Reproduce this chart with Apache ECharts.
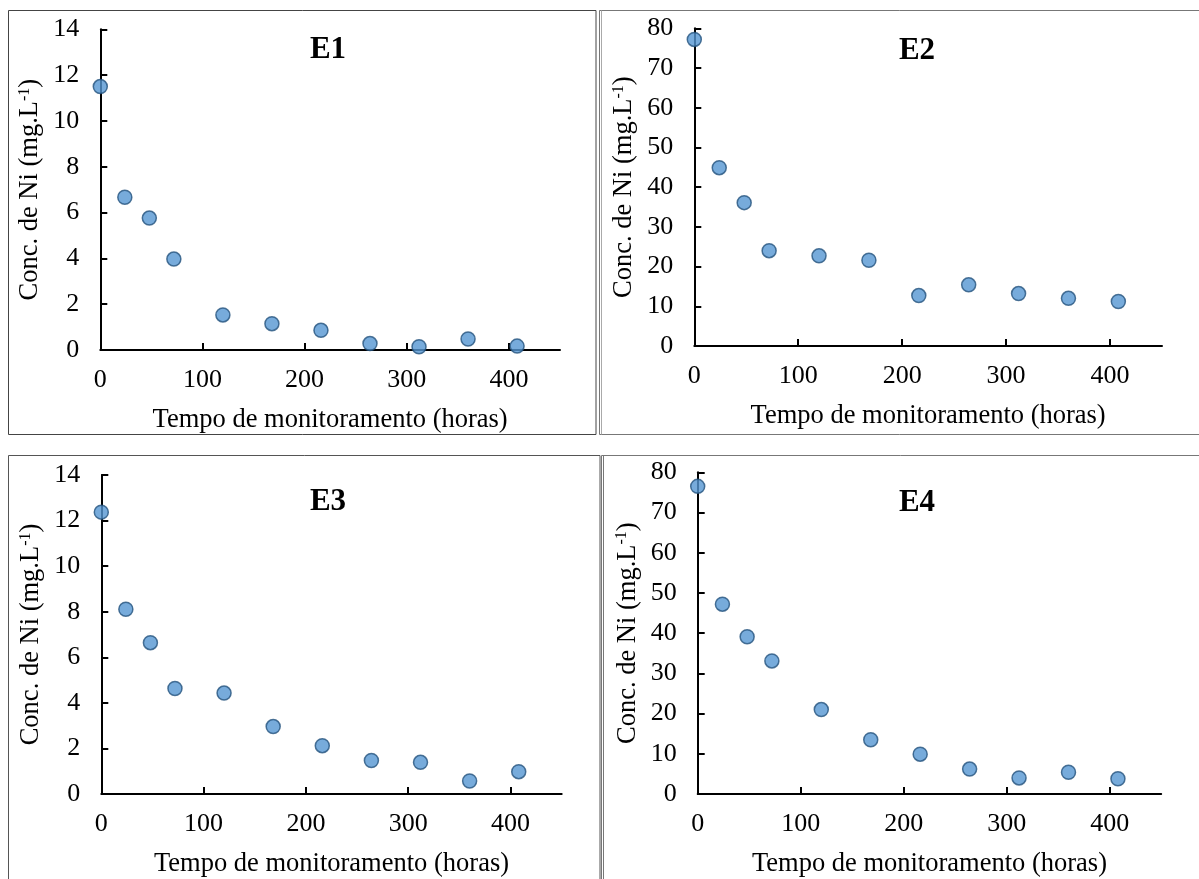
<!DOCTYPE html>
<html>
<head>
<meta charset="utf-8">
<script src="https://cdn.jsdelivr.net/npm/echarts@6/dist/echarts.min.js"></script>
<style>
html,body{margin:0;padding:0;background:#fff;}
#c{width:1199px;height:879px;}
</style>
</head>
<body>
<div id="c"></div>
<script>
// ---- data ----
const hours = [0, 24, 48, 72, 120, 168, 216, 264, 312, 360, 408];
const e1 = [11.5, 6.67, 5.76, 3.97, 1.53, 1.15, 0.86, 0.28, 0.14, 0.48, 0.17];
const e2 = [77.2, 44.9, 36.1, 24.0, 22.7, 21.6, 12.7, 15.4, 13.2, 12.0, 11.2];
const e3 = [12.37, 8.11, 6.64, 4.63, 4.43, 2.96, 2.12, 1.47, 1.39, 0.57, 0.98];
const e4 = [76.5, 47.2, 39.1, 33.1, 21.0, 13.5, 9.9, 6.2, 4.0, 5.4, 3.8];
const panelTitles = ['E1', 'E2', 'E3', 'E4'];
const xTicks = [0, 100, 200, 300, 400];
const xName = 'Tempo de monitoramento (horas)';
const yNameMain = 'Conc. de Ni (mg.L';
const yNameSup = '-1';

const seriesData = [e1, e2, e3, e4];
const yMax = [14, 80, 14, 80];
const yInt = [2, 10, 2, 10];

// ---- layout ----
const grids = [
  {left: 100.3, top: 29.3, width: 459.7, height: 320.7},
  {left: 694.3, top: 28.3, width: 467.7, height: 317.7},
  {left: 101.3, top: 475, width: 460.4, height: 329.7},
  {left: 697.7, top: 472.3, width: 463.5, height: 330}
];
const titlePos = [[328, 50], [917, 51], [328, 502], [917, 503]];

const FONT = "'Liberation Serif','Times New Roman',serif";
const black = '#000';

const chart = echarts.init(document.getElementById('c'), null, {renderer: 'canvas'});

const xAxes = [], yAxes = [], series = [];
grids.forEach((g, i) => {
  xAxes.push({
    type: 'value', gridIndex: i, min: 0, max: 450, interval: 50,
    name: xName, nameLocation: 'middle', nameGap: 57,
    nameTextStyle: {fontFamily: FONT, fontSize: 26.5, color: black},
    axisLine: {show: true, onZero: false, lineStyle: {color: black, width: 2}},
    axisTick: {show: true, inside: true, length: 7, lineStyle: {color: black, width: 2}, customValues: xTicks},
    axisLabel: {fontFamily: FONT, fontSize: 26, color: black, margin: 17, customValues: xTicks},
    splitLine: {show: false}
  });
  yAxes.push({
    type: 'value', gridIndex: i, min: 0, max: yMax[i], interval: yInt[i],
    name: '{m|' + yNameMain + '}{s|' + yNameSup + '}{m|)}',
    nameLocation: 'middle', nameGap: 56, nameRotate: 90,
    nameTextStyle: {
      fontFamily: FONT, fontSize: 26.5, color: black,
      rich: {
        m: {fontFamily: FONT, fontSize: 26.5, color: black},
        s: {fontFamily: FONT, fontSize: 16, color: black, verticalAlign: 'top', padding: [0, 0, 12, 0]}
      }
    },
    axisLine: {show: true, onZero: false, lineStyle: {color: black, width: 2}},
    axisTick: {show: true, inside: true, length: 7, lineStyle: {color: black, width: 2}},
    axisLabel: {fontFamily: FONT, fontSize: 26, color: black, margin: 21},
    splitLine: {show: false}
  });
  series.push({
    type: 'scatter', xAxisIndex: i, yAxisIndex: i,
    data: hours.map((h, k) => [h, seriesData[i][k]]),
    symbol: 'circle', symbolSize: 14,
    itemStyle: {color: '#5596d2', borderColor: '#24527d', borderWidth: 1.5},
    emphasis: {disabled: true}
  });
});

const graphics = [
  // panel borders
  {type: 'rect', shape: {x: 8.5, y: 10.5, width: 587.5, height: 424}, style: {fill: 'none', stroke: '#444', lineWidth: 1}, z: -1},
  {type: 'rect', shape: {x: 599.5, y: 10.5, width: 620, height: 424}, style: {fill: 'none', stroke: '#777', lineWidth: 1}, z: -1},
  {type: 'line', shape: {x1: 601.5, y1: 10.5, x2: 601.5, y2: 434.5}, style: {stroke: '#aaa', lineWidth: 1}, z: -1},
  {type: 'rect', shape: {x: 8.5, y: 455.5, width: 591.5, height: 440}, style: {fill: 'none', stroke: '#555', lineWidth: 1}, z: -1},
  {type: 'rect', shape: {x: 601.5, y: 455.5, width: 620, height: 440}, style: {fill: 'none', stroke: '#777', lineWidth: 1}, z: -1},
  {type: 'line', shape: {x1: 603.5, y1: 455.5, x2: 603.5, y2: 879}, style: {stroke: '#777', lineWidth: 1}, z: -1}
];
panelTitles.forEach((t, i) => {
  graphics.push({
    type: 'text', x: titlePos[i][0], y: titlePos[i][1],
    style: {text: t, fontFamily: FONT, fontSize: 31, fontWeight: 'bold', fill: black, align: 'center', verticalAlign: 'middle'}
  });
});

chart.setOption({
  animation: false,
  backgroundColor: '#fff',
  grid: grids.map(g => Object.assign({containLabel: false}, g)),
  xAxis: xAxes,
  yAxis: yAxes,
  series: series,
  graphic: graphics
});
</script>
</body>
</html>
